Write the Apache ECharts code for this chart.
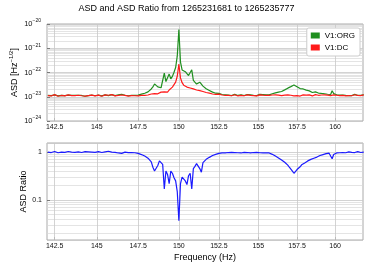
<!DOCTYPE html>
<html><head><meta charset="utf-8">
<script src="https://cdn.jsdelivr.net/npm/echarts@6/dist/echarts.min.js"></script>
<style>html,body{margin:0;padding:0;background:#fff}#c{width:373px;height:280px}</style>
</head><body><div id="c"></div>
<script>
// Frequency sampling grid (Hz)
const freqStart = 142.1, freqStep = 0.1, freqCount = 199;
// ASD values in units of 1e-23 Hz^-1/2 (axis plotted in this unit, labels show true powers)
const ASD_UNIT_EXP = -23;
const orgASD = [
  1.13,1.17,1.11,1.15,1.20,1.12,1.09,1.16,1.14,1.19,
  1.11,1.14,1.17,1.10,1.13,1.16,1.13,1.08,1.15,1.19,
  1.13,1.14,1.05,1.20,1.12,1.14,1.17,1.18,1.10,1.14,
  1.16,1.12,1.08,1.11,1.19,1.12,1.12,1.11,1.23,1.17,
  1.11,1.16,1.19,1.09,1.27,1.16,1.15,1.28,1.10,1.21,
  1.15,1.26,1.15,1.16,1.17,1.29,1.28,1.40,1.40,1.56,
  1.59,1.81,2.10,2.54,3.38,3.68,2.54,2.23,2.35,2.73,
  9.4,4.25,4.56,8.6,5.5,6.9,10.3,16,47,595,
  27,12.7,10.7,10.8,11.9,7.5,6.4,12.9,4.7,4.0,
  3.33,3.49,4.0,4.47,2.75,2.42,2.14,1.99,1.82,1.69,
  1.55,1.53,1.40,1.34,1.38,1.28,1.24,1.29,1.21,1.25,
  1.18,1.24,1.12,1.21,1.25,1.13,1.13,1.19,1.19,1.23,
  1.12,1.20,1.24,1.08,1.19,1.20,1.14,1.21,1.11,1.18,
  1.25,1.14,1.23,1.11,1.20,1.24,1.19,1.20,1.33,1.33,
  1.45,1.41,1.55,1.71,1.65,1.66,1.92,2.00,2.26,2.29,
  2.61,3.03,3.03,3.05,2.60,2.57,2.18,2.11,2.10,1.88,
  1.87,1.69,1.75,1.61,1.50,1.58,1.58,1.44,1.42,1.30,
  1.37,1.28,1.33,1.20,1.27,1.32,1.24,1.78,1.35,1.28,
  1.21,1.26,1.16,1.19,1.16,1.22,1.13,1.18,1.12,1.23,
  1.12,1.15,1.25,1.10,1.13,1.20,1.15,1.16,1.21
];
const dcASD = [
  1.12,1.18,1.08,1.15,1.22,1.10,1.05,1.16,1.13,1.20,
  1.09,1.14,1.19,1.07,1.12,1.17,1.11,1.04,1.15,1.21,
  1.10,1.13,1.06,1.18,1.12,1.09,1.16,1.20,1.08,1.14,
  1.17,1.11,1.05,1.13,1.19,1.10,1.15,1.08,1.22,1.12,
  1.09,1.16,1.13,1.06,1.18,1.11,1.14,1.20,1.07,1.15,
  1.12,1.18,1.10,1.14,1.09,1.17,1.13,1.20,1.15,1.22,
  1.18,1.25,1.30,1.22,1.35,1.40,1.32,1.45,1.55,1.50,
  1.60,1.70,1.55,1.90,2.2,2.5,3.0,4.0,7.0,22,
  6.0,3.8,3.0,2.7,2.5,2.4,2.3,2.2,2.1,2.0,
  1.9,1.85,1.8,1.7,1.65,1.55,1.5,1.45,1.4,1.35,
  1.3,1.32,1.25,1.22,1.28,1.2,1.18,1.24,1.15,1.2,
  1.14,1.18,1.10,1.16,1.21,1.12,1.08,1.17,1.13,1.19,
  1.10,1.15,1.20,1.07,1.13,1.18,1.11,1.16,1.09,1.14,
  1.20,1.12,1.17,1.08,1.15,1.22,1.13,1.10,1.18,1.14,
  1.19,1.11,1.16,1.23,1.12,1.08,1.17,1.14,1.20,1.10,
  1.15,1.21,1.09,1.16,1.12,1.18,1.07,1.14,1.20,1.11,
  1.16,1.10,1.19,1.13,1.08,1.17,1.22,1.12,1.15,1.09,
  1.18,1.13,1.20,1.10,1.16,1.24,1.12,1.28,1.19,1.20,
  1.15,1.22,1.11,1.17,1.13,1.21,1.08,1.16,1.12,1.19,
  1.10,1.15,1.21,1.09,1.14,1.18,1.12,1.16,1.20
];
const asdRatio = [
  0.99,1.01,0.97,1.00,1.02,0.98,0.96,1.00,0.99,1.01,
  0.98,1.00,1.02,0.97,0.99,1.01,0.98,0.96,1.00,1.02,
  0.97,0.99,1.01,0.98,1.00,0.96,0.99,1.02,0.98,1.00,
  1.01,0.99,0.97,1.02,1.00,0.98,1.03,0.97,0.99,0.96,
  0.98,1.00,0.95,0.97,0.93,0.96,0.99,0.94,0.97,0.95,
  0.97,0.94,0.96,0.98,0.93,0.91,0.88,0.86,0.82,0.78,
  0.74,0.69,0.62,0.48,0.40,0.38,0.52,0.65,0.66,0.55,
  0.17,0.40,0.34,0.22,0.40,0.36,0.29,0.25,0.15,0.037,
  0.22,0.30,0.28,0.25,0.21,0.32,0.36,0.17,0.45,0.50,
  0.57,0.53,0.45,0.38,0.60,0.64,0.70,0.73,0.77,0.80,
  0.84,0.86,0.89,0.91,0.93,0.94,0.95,0.96,0.95,0.96,
  0.97,0.95,0.98,0.96,0.97,0.99,0.96,0.98,0.95,0.97,
  0.98,0.96,0.97,0.99,0.95,0.98,0.97,0.96,0.98,0.97,
  0.96,0.98,0.95,0.97,0.96,0.98,0.95,0.92,0.89,0.86,
  0.82,0.79,0.75,0.72,0.68,0.65,0.61,0.57,0.53,0.48,
  0.44,0.40,0.36,0.38,0.43,0.46,0.49,0.54,0.57,0.59,
  0.62,0.65,0.68,0.70,0.72,0.74,0.77,0.78,0.81,0.84,
  0.86,0.88,0.90,0.92,0.91,0.94,0.90,0.72,0.88,0.94,
  0.95,0.97,0.96,0.98,0.97,0.99,0.96,0.98,1.00,0.97,
  0.98,1.00,0.97,0.99,1.01,0.98,0.97,1.00,0.99
];
const freqTicks = [142.5, 145, 147.5, 150, 152.5, 155, 157.5, 160];
const seriesNames = ['V1:ORG', 'V1:DC'];
const titleText = 'ASD and ASD Ratio from 1265231681 to 1265235777';

const freqs = [];
for (let i = 0; i < freqCount; i++) freqs.push(Math.round((freqStart + freqStep * i) * 10) / 10);

// minor log grid positions (2..9 x decade)
function minorLogs(d0, d1, lo, hi) {
  const out = [];
  for (let d = d0; d <= d1; d++) for (let m = 2; m <= 9; m++) {
    const v = m * Math.pow(10, d);
    if (v > lo && v < hi) out.push({ yAxis: v });
  }
  return out;
}
// top axis: 1e-24 .. 1e-20 expressed in units of 1e-23
const topMin = 0.1, topMax = 1000, botMin = 0.0148, botMax = 1.53;
const vLines = freqTicks.map(f => ({ xAxis: f }));
const font = 'Liberation Sans, Arial, sans-serif';
const SUP = '\u2212';

const chart = echarts.init(document.getElementById('c'), null, { renderer: 'canvas' });

function xAx(gi, showName) {
  return {
    type: 'log', logBase: 10, gridIndex: gi, min: 142.05, max: 161.85,
    axisLine: { show: false },
    axisTick: { show: true, inside: true, length: 3, customValues: freqTicks, lineStyle: { color: '#666', width: 0.8 } },
    axisLabel: { customValues: freqTicks, fontSize: 7, color: '#111', margin: 3, fontFamily: font,
      formatter: v => String(v) },
    splitLine: { show: false },
    name: showName ? 'Frequency (Hz)' : '', nameLocation: 'middle', nameGap: 13, nameMoveOverlap: false,
    nameTextStyle: { fontSize: 9, color: '#000', fontFamily: font }
  };
}
function gridMark(gi, lo, hi) {
  return [
    { type: 'line', xAxisIndex: gi, yAxisIndex: gi, data: [], symbol: 'none', silent: true, z: 1,
      lineStyle: { width: 0 },
      markLine: { silent: true, symbol: 'none', z: 1, animation: false, label: { show: false },
        lineStyle: { color: '#d9d9d9', width: 0.7, type: 'solid' },
        data: minorLogs(-3, 3, lo, hi) } },
    { type: 'line', xAxisIndex: gi, yAxisIndex: gi, data: [], symbol: 'none', silent: true, z: 1,
      lineStyle: { width: 0 },
      markLine: { silent: true, symbol: 'none', z: 1, animation: false, label: { show: false },
        lineStyle: { color: '#c8c8c8', width: 0.8, type: 'solid' },
        data: vLines } }
  ];
}

const option = {
  animation: false,
  backgroundColor: '#fff',
  title: { text: titleText, left: 'center', top: 4, padding: 0,
    textStyle: { fontSize: 9, fontWeight: 'normal', color: '#000', fontFamily: font } },
  legend: {
    data: seriesNames, orient: 'vertical', right: 13, top: 28, icon: 'rect',
    itemWidth: 9, itemHeight: 6, itemGap: 3, padding: [3, 5, 4, 4],
    backgroundColor: '#fff', borderColor: '#ccc', borderWidth: 1, borderRadius: 2,
    textStyle: { fontSize: 8, color: '#000', fontFamily: font, lineHeight: 9 }
  },
  grid: [
    { left: 47, top: 24, width: 316, height: 97, show: true, borderColor: '#aaa', borderWidth: 1, backgroundColor: '#fff', outerBoundsMode: 'none' },
    { left: 47, top: 143, width: 316, height: 97, show: true, borderColor: '#aaa', borderWidth: 1, backgroundColor: '#fff', outerBoundsMode: 'none' }
  ],
  xAxis: [xAx(0, false), xAx(1, true)],
  yAxis: [
    { type: 'log', logBase: 10, gridIndex: 0, min: topMin, max: topMax,
      axisLine: { show: false },
      axisTick: { show: true, inside: true, length: 3, lineStyle: { color: '#666', width: 0.8 } },
      splitLine: { show: true, lineStyle: { color: '#c8c8c8', width: 0.8 } },
      axisLabel: { margin: 6, fontFamily: font,
        formatter: v => { const e = Math.round(Math.log10(v)) + ASD_UNIT_EXP; return '{b|10}{s|' + (e < 0 ? SUP : '') + Math.abs(e) + '}'; },
        rich: { b: { fontSize: 7.5, color: '#111', lineHeight: 11, fontFamily: font },
                s: { fontSize: 5, color: '#111', lineHeight: 6, verticalAlign: 'top', fontFamily: font } } },
      name: '{a|ASD [Hz}{s|' + SUP + '1/2}{a|]}', nameLocation: 'middle', nameGap: 26, nameMoveOverlap: false,
      nameTextStyle: { rich: { a: { fontSize: 9, color: '#000', lineHeight: 13, fontFamily: font },
                               s: { fontSize: 6, color: '#000', lineHeight: 7, verticalAlign: 'top', fontFamily: font } } } },
    { type: 'log', logBase: 10, gridIndex: 1, min: botMin, max: botMax,
      axisLine: { show: false },
      axisTick: { show: true, inside: true, length: 3, lineStyle: { color: '#666', width: 0.8 } },
      splitLine: { show: true, lineStyle: { color: '#c8c8c8', width: 0.8 } },
      axisLabel: { margin: 5, fontSize: 7, color: '#111', fontFamily: font, showMinLabel: false, showMaxLabel: false,
        formatter: v => { const e = Math.round(Math.log10(v)); if (Math.abs(Math.log10(v) - e) > 1e-6) return ''; return String(Math.pow(10, e)); } },
      name: 'ASD Ratio', nameLocation: 'middle', nameGap: 19, nameMoveOverlap: false,
      nameTextStyle: { fontSize: 9, color: '#000', fontFamily: font } }
  ],
  series: [
    ...gridMark(0, topMin, topMax),
    ...gridMark(1, botMin, botMax),
    { name: seriesNames[0], type: 'line', xAxisIndex: 0, yAxisIndex: 0, symbol: 'none', z: 3,
      color: '#1f8f1f', lineStyle: { width: 1.2, color: '#1f8f1f' },
      data: orgASD.map((v, i) => [freqs[i], v]) },
    { name: seriesNames[1], type: 'line', xAxisIndex: 0, yAxisIndex: 0, symbol: 'none', z: 4,
      color: '#ff1a1a', lineStyle: { width: 1.2, color: '#ff1a1a' },
      data: dcASD.map((v, i) => [freqs[i], v]) },
    { name: 'ratio', type: 'line', xAxisIndex: 1, yAxisIndex: 1, symbol: 'none', z: 3,
      lineStyle: { width: 1.2, color: '#1a1aff' },
      data: asdRatio.map((v, i) => [freqs[i], v]) }
  ]
};
chart.setOption(option);
</script></body></html>
